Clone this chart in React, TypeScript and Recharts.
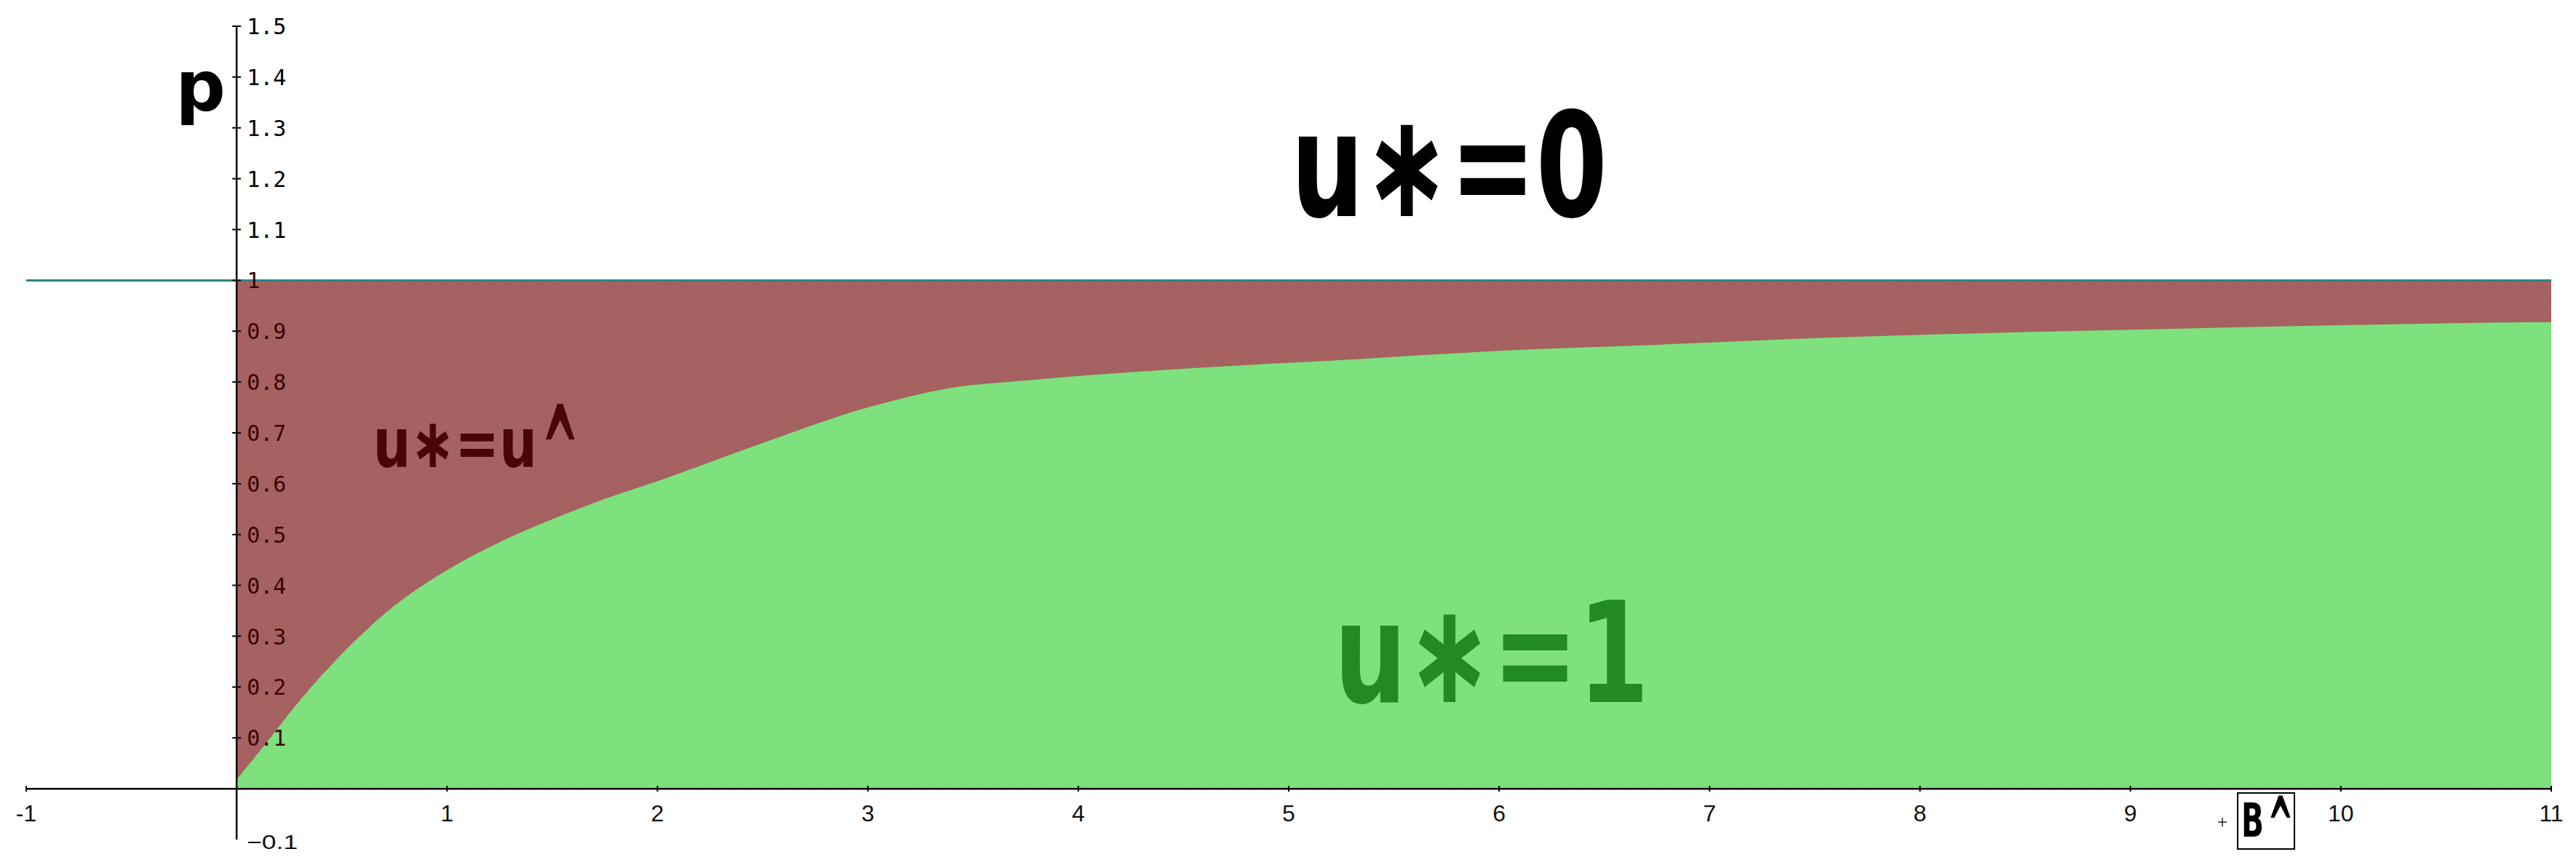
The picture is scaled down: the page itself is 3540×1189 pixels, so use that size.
import React from 'react';
import { ComposedChart, Area, Scatter, XAxis, YAxis, ReferenceLine, ReferenceDot } from 'recharts';

// Boundary between the u*=1 region (below) and u*=u^ region (above)
const boundaryB = [0, 0.16, 0.25, 0.5, 0.75, 1, 1.25, 1.5, 1.75, 2, 2.5, 3, 3.39, 3.75, 4.07, 4.79, 5.15, 6.09, 6.68, 7.35, 8.47, 9.13, 9.91, 10.77, 11];
const boundaryP = [0.018, 0.1, 0.148, 0.265, 0.36, 0.43, 0.485, 0.53, 0.57, 0.605, 0.68, 0.75, 0.788, 0.803, 0.814, 0.833, 0.841, 0.863, 0.872, 0.884, 0.898, 0.904, 0.911, 0.917, 0.918];
const upperLimitP = 1;

const xTickValues = [-1, 1, 2, 3, 4, 5, 6, 7, 8, 9, 10, 11];
const xTickLabels = ['-1', '1', '2', '3', '4', '5', '6', '7', '8', '9', '10', '11'];
const yTickValues = [1.5, 1.4, 1.3, 1.2, 1.1, 1, 0.9, 0.8, 0.7, 0.6, 0.5, 0.4, 0.3, 0.2, 0.1];
const yTickLabels = ['1.5', '1.4', '1.3', '1.2', '1.1', '1', '0.9', '0.8', '0.7', '0.6', '0.5', '0.4', '0.3', '0.2', '0.1'];
const yBottomValue = -0.1;
const yBottomLabel = '\u22120.1';

const regionData = boundaryB.map((b, i) => ({ b, p: boundaryP[i], top: upperLimitP }));
const xTickData = xTickValues.map((b, i) => ({ b, p: 0, label: xTickLabels[i] }));
const yTickData = yTickValues.map((p, i) => ({ b: 0, p, label: yTickLabels[i] }));

const XTick = (props: any) => {
  const { cx, cy, payload } = props;
  return (
    <g>
      <line x1={cx} x2={cx} y1={cy - 4} y2={cy + 4} stroke="#000" strokeWidth={2} />
      <text x={cx} y={cy + 45} textAnchor="middle" fontFamily="Liberation Sans" fontSize={32} fill="#111">
        {payload.label}
      </text>
    </g>
  );
};

const YTick = (props: any) => {
  const { cx, cy, payload } = props;
  const inside = payload.p <= 1;
  return (
    <g>
      <line x1={cx - 6} x2={cx + 6} y1={cy} y2={cy} stroke="#000" strokeWidth={2} />
      <text x={cx + 14} y={cy + 11} fontFamily="DejaVu Sans Mono" fontSize={30} fill={inside ? '#3a0404' : '#000'}>
        {payload.label}
      </text>
    </g>
  );
};

export default function App() {
  return (
    <ComposedChart
      width={3524}
      height={1173}
      data={regionData}
      margin={{ top: 28, right: 26, bottom: 27, left: 28 }}
    >
      <defs>
        <pattern id="redChk" width="2" height="2" patternUnits="userSpaceOnUse">
          <rect width="2" height="2" fill="#dcbcbc" />
          <rect x="0" y="0" width="1" height="1" fill="#700606" />
          <rect x="1" y="1" width="1" height="1" fill="#700606" />
        </pattern>
        <pattern id="greenChk" width="2" height="2" patternUnits="userSpaceOnUse">
          <rect width="2" height="2" fill="#a6f0a6" />
          <rect x="0" y="0" width="1" height="1" fill="#55d255" />
          <rect x="1" y="1" width="1" height="1" fill="#55d255" />
        </pattern>
      </defs>
      <XAxis type="number" dataKey="b" domain={[-1, 11]} hide />
      <YAxis type="number" domain={[-0.1, 1.5]} hide />
      <Area
        type="monotone"
        dataKey="top"
        baseValue={0}
        stroke="none"
        fill="url(#redChk)"
        fillOpacity={1}
        isAnimationActive={false}
      />
      <Area
        type="monotone"
        dataKey="p"
        baseValue={0}
        stroke="none"
        fill="url(#greenChk)"
        fillOpacity={1}
        isAnimationActive={false}
      />
      <ReferenceLine y={upperLimitP} stroke="#2a8585" strokeWidth={3} />
      <ReferenceLine y={0} stroke="#000" strokeWidth={2.5} />
      <ReferenceLine x={0} stroke="#000" strokeWidth={2.5} />
      <Scatter data={xTickData} dataKey="p" shape={(p: any) => <XTick {...p} />} isAnimationActive={false} />
      <Scatter data={yTickData} dataKey="p" shape={(p: any) => <YTick {...p} />} isAnimationActive={false} />
      <ReferenceDot
        x={0}
        y={yBottomValue}
        r={0}
        shape={(p: any) => (
          <text x={p.cx + 14} y={p.cy + 13} fontFamily="Liberation Sans" fontSize={28} fill="#111" textLength={70} lengthAdjust="spacingAndGlyphs">
            {yBottomLabel}
          </text>
        )}
      />
      <ReferenceDot
        x={-0.29}
        y={1.334}
        r={0}
        shape={(p: any) => (
          <text x={p.cx} y={p.cy} fontFamily="DejaVu Sans" fontWeight="bold" fontSize={96} fill="#000">
            p
          </text>
        )}
      />
      <ReferenceDot
        x={5.01}
        y={1.126}
        r={0}
        shape={(p: any) => (
          <text x={p.cx} y={p.cy} fontFamily="DejaVu Sans" fontWeight="bold" fontSize={200} fill="#000" textLength={435} lengthAdjust="spacingAndGlyphs">
            u∗=0
          </text>
        )}
      />
      <ReferenceDot
        x={5.215}
        y={0.1705}
        r={0}
        shape={(p: any) => (
          <text x={p.cx} y={p.cy} fontFamily="DejaVu Sans" fontWeight="bold" fontSize={192} fill="#238a23" textLength={433} lengthAdjust="spacingAndGlyphs">
            u∗=1
          </text>
        )}
      />
      <ReferenceDot
        x={0.649}
        y={0.6327}
        r={0}
        shape={(p: any) => (
          <text x={p.cx} y={p.cy} fontFamily="DejaVu Sans" fontWeight="bold" fontSize={95} fill="#4a0606">
            <tspan textLength={225} lengthAdjust="spacingAndGlyphs">u∗=u</tspan>
            <tspan dx={6} dy={44} fontSize={180} textLength={52} lengthAdjust="spacingAndGlyphs">^</tspan>
          </text>
        )}
      />
      <ReferenceDot
        x={9.527}
        y={-0.0943}
        r={0}
        shape={(p: any) => (
          <g>
            <line x1={p.cx - 32} x2={p.cx - 20} y1={p.cy - 20} y2={p.cy - 20} stroke="#222" strokeWidth={1.5} />
            <line x1={p.cx - 26} x2={p.cx - 26} y1={p.cy - 26} y2={p.cy - 14} stroke="#222" strokeWidth={1.5} />
            <rect x={p.cx - 5} y={p.cy - 60} width={78} height={77} fill="none" stroke="#000" strokeWidth={2} />
            <text x={p.cx} y={p.cy} fontFamily="DejaVu Sans" fontWeight="bold" fontSize={64} fill="#000">
              <tspan textLength={31} lengthAdjust="spacingAndGlyphs">B</tspan>
              <tspan dx={5} dy={25} fontSize={113} textLength={36} lengthAdjust="spacingAndGlyphs">^</tspan>
            </text>
          </g>
        )}
      />
    </ComposedChart>
  );
}
